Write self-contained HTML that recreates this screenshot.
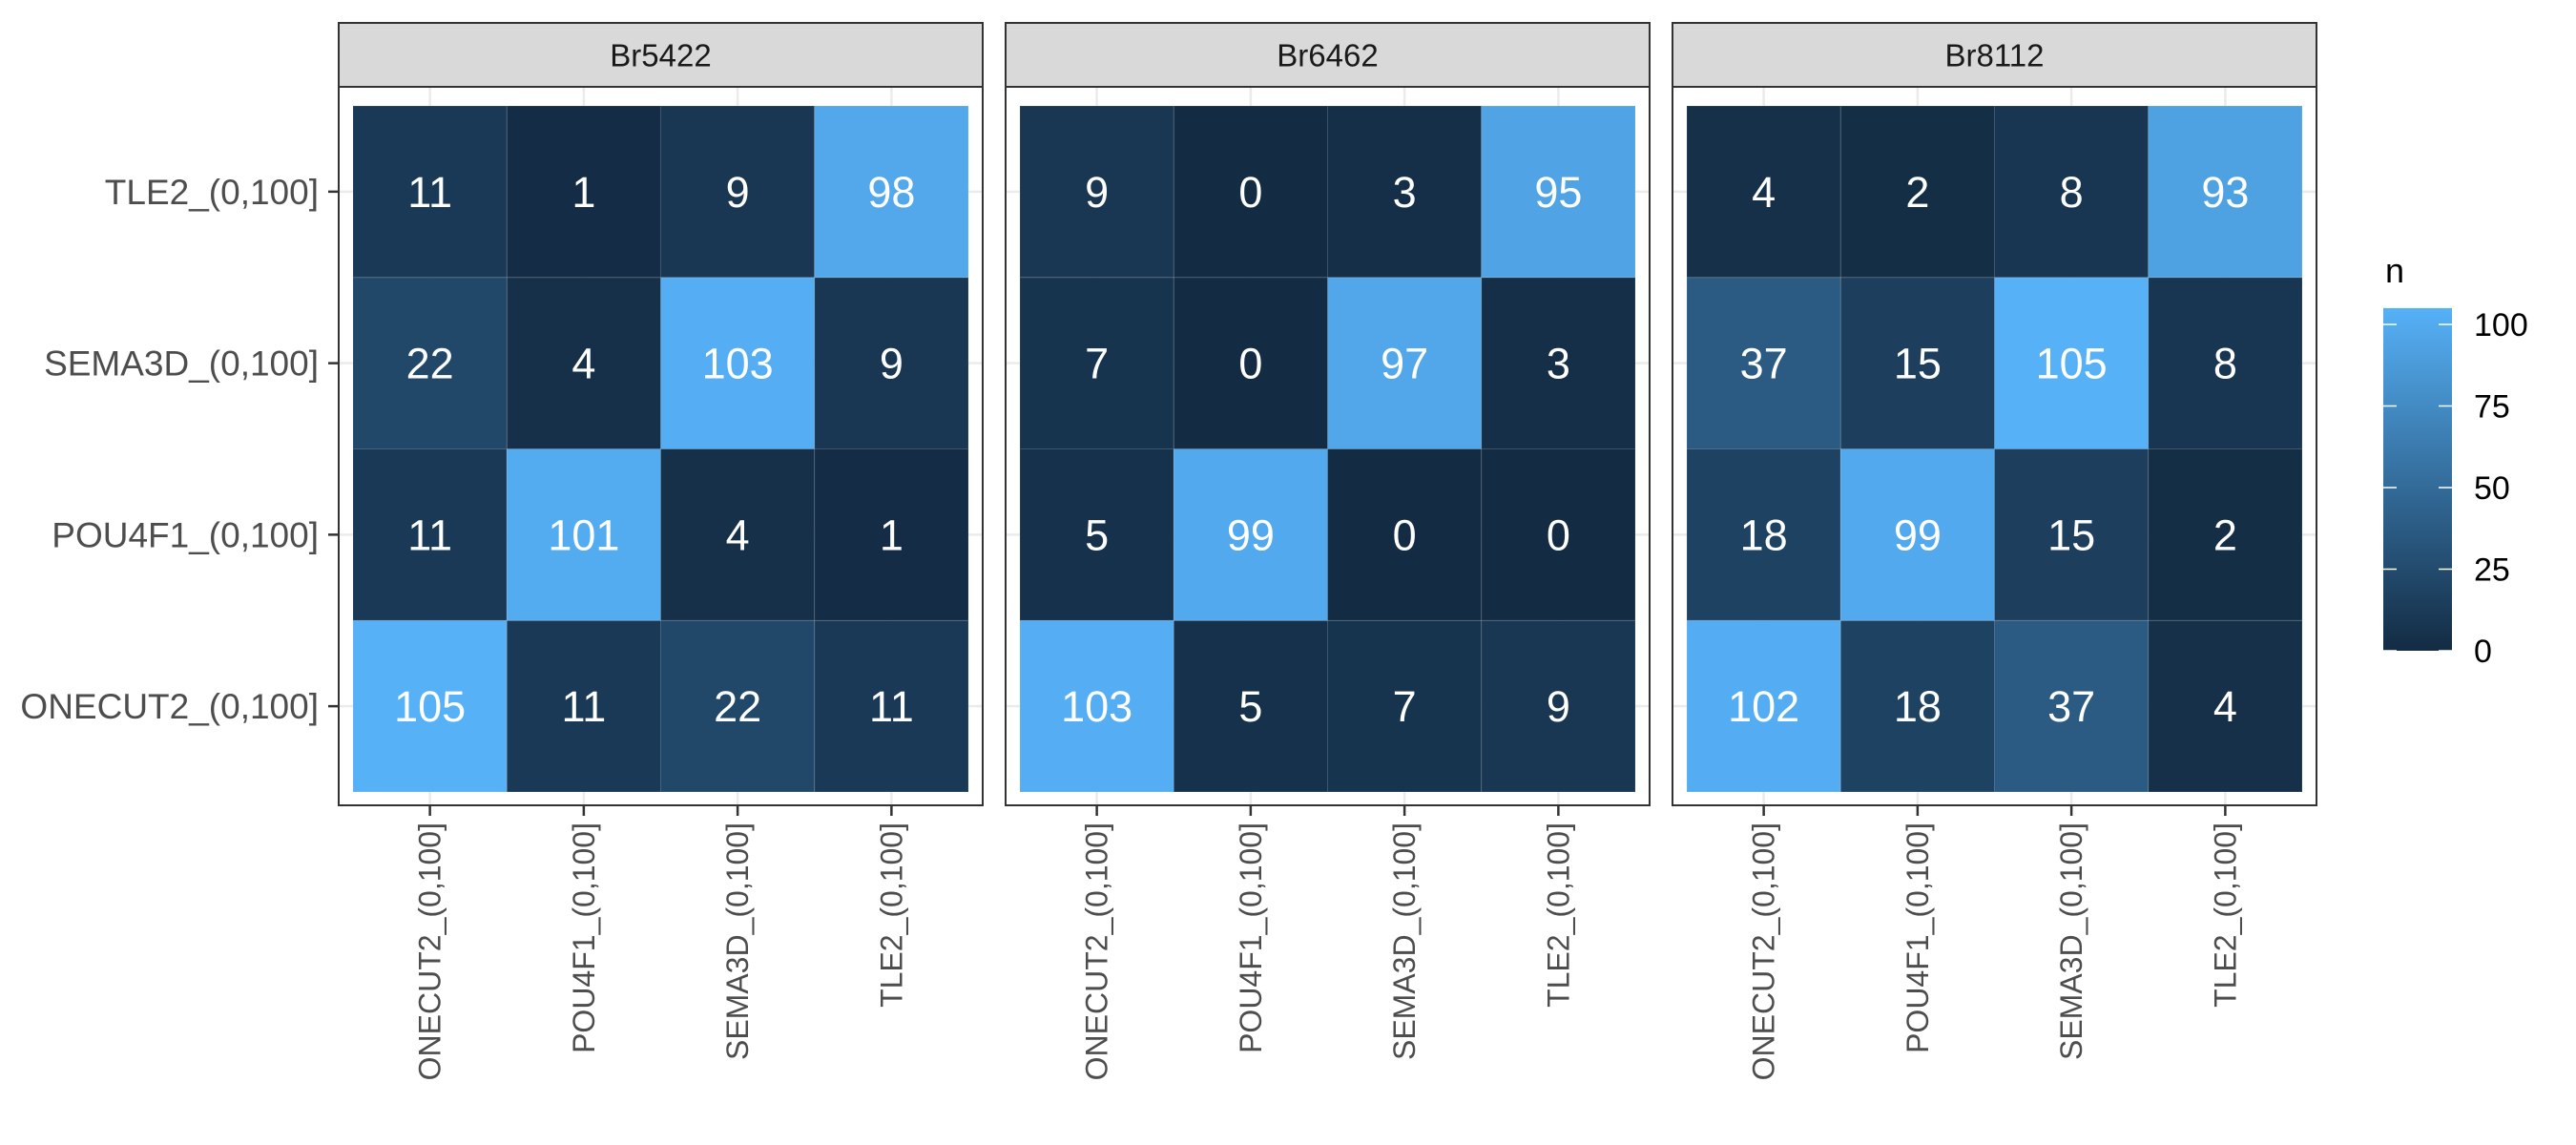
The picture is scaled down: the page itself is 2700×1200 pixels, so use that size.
<!DOCTYPE html>
<html><head><meta charset="utf-8"><style>
html,body{margin:0;padding:0;background:#fff;}
svg{display:block;font-family:"Liberation Sans",Arial,sans-serif;}
</style></head><body>
<svg id="chart" width="2700" height="1200" viewBox="0 0 2700 1200" xmlns="http://www.w3.org/2000/svg"></svg>
<script>
const panels = ["Br5422","Br6462","Br8112"];
const xCats = ["ONECUT2_(0,100]","POU4F1_(0,100]","SEMA3D_(0,100]","TLE2_(0,100]"];
const yCats = ["ONECUT2_(0,100]","POU4F1_(0,100]","SEMA3D_(0,100]","TLE2_(0,100]"];
// values[panel][yIndex][xIndex], yIndex 0 = ONECUT2 (bottom)
const valsBr5422 = [[105,11,22,11],[11,101,4,1],[22,4,103,9],[11,1,9,98]];
const valsBr6462 = [[103,5,7,9],[5,99,0,0],[7,0,97,3],[9,0,3,95]];
const valsBr8112 = [[102,18,37,4],[18,99,15,2],[37,15,105,8],[4,2,8,93]];
const legendTicks = [0,25,50,75,100];
const colorMin = 0, colorMax = 105;

const values = [valsBr5422, valsBr6462, valsBr8112];
const NS = "http://www.w3.org/2000/svg";
const svg = document.getElementById("chart");
function mk(tag, attrs, parent){const e=document.createElementNS(NS,tag);for(const k in attrs)e.setAttribute(k,attrs[k]);(parent||svg).appendChild(e);return e;}
function lerp(a,b,t){return Math.round(a+(b-a)*t);}
function color(v){const t=Math.max(0,Math.min(1,(v-colorMin)/(colorMax-colorMin)));
  return `rgb(${lerp(0x13,0x56,t)},${lerp(0x2B,0xB1,t)},${lerp(0x43,0xF7,t)})`;}

const panelX = [355,1054,1753], panelW = 675;
const stripTop = 24, stripBot = 91, bodyBot = 844;
const tileTop = 111, tileBot = 830, padX = 15;
function xScale(p,i){const x0=panelX[p]+padX, w=(panelW-2*padX)/xCats.length;return x0+w*i;}
const tileW = (panelW-2*padX)/xCats.length;
const tileH = (tileBot-tileTop)/yCats.length;
function yScale(j){return tileBot - tileH*(j+1);}

panels.forEach((name,p)=>{
  const g = mk("g",{});
  
  
  const strip = mk("rect",{x:panelX[p],y:stripTop,width:panelW,height:stripBot-stripTop,fill:"#d9d9d9",stroke:"#333",'stroke-width':2},g);
  
  
  const st = mk("text",{x:panelX[p]+panelW/2,y:(stripTop+stripBot)/2+12,'text-anchor':'middle','font-size':33,fill:'#1a1a1a'},g);
  st.textContent=name;
  
  
  mk("rect",{x:panelX[p],y:stripBot,width:panelW,height:bodyBot-stripBot,fill:"#fff"},g);
  for(let i=0;i<xCats.length;i++){const cx=xScale(p,i)+tileW/2;
    mk("line",{x1:cx,x2:cx,y1:stripBot,y2:bodyBot,stroke:'#ebebeb','stroke-width':2.5},g);}
  for(let j=0;j<yCats.length;j++){const cy=yScale(j)+tileH/2;
    mk("line",{x1:panelX[p],x2:panelX[p]+panelW,y1:cy,y2:cy,stroke:'#ebebeb','stroke-width':2.5},g);}
  const data = values[p];
  for(let j=0;j<yCats.length;j++){for(let i=0;i<xCats.length;i++){
    const v=data[j][i];
    const r=mk("rect",{x:xScale(p,i),y:yScale(j),width:tileW,height:tileH,fill:color(v),stroke:'rgba(255,255,255,0.12)','stroke-width':1},g);
    
    
    const t=mk("text",{x:xScale(p,i)+tileW/2,y:yScale(j)+tileH/2+16,'text-anchor':'middle','font-size':45,fill:'#fff'},g);
    t.textContent=v;
    
    
  }}
  mk("rect",{x:panelX[p],y:stripBot,width:panelW,height:bodyBot-stripBot,fill:"none",stroke:"#333",'stroke-width':2},g);
  for(let i=0;i<xCats.length;i++){const cx=xScale(p,i)+tileW/2;
    mk("line",{x1:cx,x2:cx,y1:bodyBot,y2:bodyBot+11,stroke:'#333','stroke-width':2.5},g);
    const t=mk("text",{x:0,y:0,'text-anchor':'end','font-size':32,fill:'#4d4d4d',transform:`translate(${cx+11},${bodyBot+18}) rotate(-90)`},g);
    t.textContent=xCats[i];
    
    
  }
});
for(let j=0;j<yCats.length;j++){const cy=yScale(j)+tileH/2;
  mk("line",{x1:344,x2:355,y1:cy,y2:cy,stroke:'#333','stroke-width':2.5});
  const t=mk("text",{x:334,y:cy+13,'text-anchor':'end','font-size':37,fill:'#4d4d4d'});
  t.textContent=yCats[j];
  
  
}
const lx=2498, lw=72, l0=682, lPer=(682-340)/100;
const defs=mk("defs",{});
const grad=mk("linearGradient",{id:"lg",x1:0,y1:1,x2:0,y2:0},defs);
mk("stop",{offset:0,'stop-color':color(colorMin)},grad);
mk("stop",{offset:1,'stop-color':color(colorMax)},grad);
const lb=mk("rect",{x:lx,y:l0-colorMax*lPer,width:lw,height:colorMax*lPer,fill:'url(#lg)'});


const lt=mk("text",{x:2500,y:296,'font-size':36,fill:'#000'});
lt.textContent='n';


legendTicks.forEach(v=>{const y=l0-v*lPer;
  mk("line",{x1:lx,x2:lx+14,y1:y,y2:y,stroke:'#fff','stroke-width':1.5});
  mk("line",{x1:lx+lw-14,x2:lx+lw,y1:y,y2:y,stroke:'#fff','stroke-width':1.5});
  const t=mk("text",{x:2593,y:y+12,'font-size':34,fill:'#000'});
  t.textContent=v;
  
  
});
</script>
</body></html>
